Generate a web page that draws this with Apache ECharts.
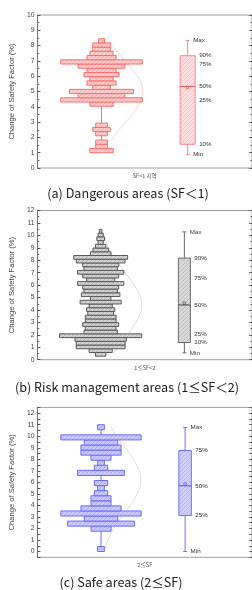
<!DOCTYPE html>
<html><head><meta charset="utf-8">
<script src="https://cdn.jsdelivr.net/npm/echarts@6/dist/echarts.min.js"></script>
<style>html,body{margin:0;padding:0;background:#fff}#c{width:252px;height:590px}</style>
</head><body><div id="c"></div><script>
// ================= DATA =================
// Panel (a) Dangerous areas (SF<1)
const histStartA = 1.0, histBinA = 0.276;
const countsA = [4,2,2,0,2,3,2,0,0,0,0,4,14,8,11,3,5,4,6,5,8,14,5,4,3,3,1];
const boxNamesA = ['Max','90%','75%','50%','25%','10%','Min'];
const boxValsA  = [8.33, 7.34, 6.81, 5.33, 4.41, 1.55, 0.87];
const meanA = 5.25;
const curveA = [[1.7,1.5],[2.2,2.4],[2.7,3.5],[3.2,4.6],[3.7,5.7],[4.2,6.5],[4.7,7.0],[5.0,7.1],[5.3,7.0],[5.8,6.5],[6.3,5.6],[6.8,4.5],[7.3,3.4],[7.8,2.3],[8.35,1.3]];
const xNameA = 'SF<1 지역';
const captionA = '(a) Dangerous areas (SF＜1)';

// Panel (b) Risk management areas (1<=SF<2)
const histStartB = 0.28, histBinB = 0.3;
const countsB = [4,9,19,19,20,32,13,12,14,12,12,10,11,9,16,8,15,13,14,18,11,14,18,13,14,19,21,8,6,4,2,3,2,1];
const boxNamesB = ['Max','90%','75%','50%','25%','10%','Min'];
const boxValsB  = [10.28, 8.17, 6.56, 4.40, 2.04, 1.38, 0.55];
const meanB = 4.55;
const curveB = [[0.5,4.9],[1.5,8.3],[2.5,12.1],[3.5,15.0],[4.4,16.0],[5.0,15.6],[6.0,13.1],[7.0,9.5],[8.0,5.9],[8.5,4.3],[9.0,3.1],[9.5,2.1],[10.0,1.4]];
const xNameB = '1≤SF<2';
const captionB = '(b) Risk management areas (1≤SF＜2)';

// Panel (c) Safe areas (2<=SF)
const histStartC = 0.0, histBinC = 0.44;
const countsC = [1,0,0,0,3,10,5,12,6,3,3,2,1,2,0,7,2,1,3,6,6,5,12,0,1];
const boxNamesC = ['Max','75%','50%','25%','Min'];
const boxValsC  = [10.76, 8.76, 5.70, 3.12, 0.0];
const meanC = 5.87;
const curveC = [[0.15,0.56],[1.0,1.03],[2.0,1.9],[3.0,3.07],[4.0,4.35],[5.0,5.42],[6.2,5.95],[7.0,5.71],[8.0,4.83],[9.0,3.58],[10.0,2.34],[10.9,1.43]];
const xNameC = '2≤SF';
const captionC = '(c) Safe areas (2≤SF)';

const yTitle = 'Change of Safety Factor (%)';

// ================= LAYOUT / STYLE =================
function hatch(bg, line) {
  const c = document.createElement('canvas'); c.width = 4; c.height = 4;
  const g = c.getContext('2d'); g.fillStyle = bg; g.fillRect(0, 0, 4, 4);
  g.strokeStyle = line; g.lineWidth = 1;
  g.beginPath(); g.moveTo(-1, 5); g.lineTo(5, -1); g.stroke();
  return {image: c, repeat: 'repeat'};
}
const panels = [
  {left:32, top:15, bottom:168, yMin:0, yMax:10, interval:1, minor:true,
   histX:66, boxX:154.7, boxW:15, unit:6, boxLoIdx:5, boxHiIdx:1,
   start:histStartA, bin:histBinA, counts:countsA, names:boxNamesA, vals:boxValsA, mean:meanA, curve:curveA,
   xName:xNameA, caption:captionA, capX:128, capY:193, nameGap:16,
   stroke:'#ff6b6b', fill:hatch('#ffcccc','#ffb0b0'), boxFill:hatch('#ffdde1','#ffc4ca'), boxStroke:'#ff8090',
   median:'#e25555', curveColor:'#f2cfcf'},
  {left:30, top:210.5, bottom:359.7, yMin:0, yMax:12, interval:1, minor:true,
   histX:65.7, boxX:152.7, boxW:12, unit:2.67, boxLoIdx:5, boxHiIdx:1,
   start:histStartB, bin:histBinB, counts:countsB, names:boxNamesB, vals:boxValsB, mean:meanB, curve:curveB,
   xName:xNameB, caption:captionB, capX:127, capY:387, nameGap:15,
   stroke:'#5a5a5a', fill:hatch('#d2d2d2','#b9b9b9'), boxFill:hatch('#d8d8d8','#c0c0c0'), boxStroke:'#6a6a6a',
   median:'#444444', curveColor:'#d6d6d6'},
  {left:28.5, top:407.4, bottom:557.3, yMin:-0.5, yMax:12.5, interval:0.5, minor:false,
   histX:66.5, boxX:154.5, boxW:12.5, unit:7, boxLoIdx:3, boxHiIdx:1,
   start:histStartC, bin:histBinC, counts:countsC, names:boxNamesC, vals:boxValsC, mean:meanC, curve:curveC,
   xName:xNameC, caption:captionC, capX:121, capY:582, nameGap:15,
   stroke:'#6a6aff', fill:hatch('#c9c9ff','#afafff'), boxFill:hatch('#cfcfff','#b6b6ff'), boxStroke:'#7070ff',
   median:'#4f4fff', curveColor:'#dadada'}
];
const RIGHT = 253;
const FONT = '"Liberation Sans", Arial, sans-serif';

const grid = [], xAxis = [], yAxis = [], series = [], graphic = [];
panels.forEach((P, i) => {
  const W = RIGHT - P.left;
  grid.push({left:P.left, top:P.top, width:W, height:P.bottom - P.top, show:true, borderColor:'#a0a0a0', borderWidth:1, containLabel:false});
  xAxis.push({gridIndex:i, type:'value', min:0, max:W, axisLine:{show:false}, axisTick:{show:false},
    axisLabel:{show:false}, splitLine:{show:false},
    name:P.xName, nameLocation:'middle', nameGap:5,
    nameTextStyle:{fontSize:5.5, color:'#555', fontFamily:'"Noto Sans CJK KR", sans-serif', verticalAlign:'top'}});
  const common = {gridIndex:i, type:'value', min:P.yMin, max:P.yMax, interval:P.interval, splitLine:{show:false}};
  yAxis.push(Object.assign({}, common, {position:'left',
    axisLine:{show:true, lineStyle:{color:'#777', width:1}},
    axisTick:{show:true, inside:true, length:3, lineStyle:{color:'#555'}},
    minorTick:{show:P.minor, splitNumber:2, length:1.8, lineStyle:{color:'#666'}},
    axisLabel:{fontSize:6.8, color:'#444', margin:3, fontFamily:FONT,
      formatter: v => (Math.abs(v - Math.round(v)) < 1e-6 ? String(Math.round(v)) : '')},
    name:yTitle, nameLocation:'middle', nameGap:P.nameGap,
    nameTextStyle:{fontSize:7.6, color:'#444', fontFamily:FONT}}));
  yAxis.push(Object.assign({}, common, {position:'right',
    axisLine:{show:false},
    axisTick:{show:true, inside:true, length:3, lineStyle:{color:'#666'}},
    minorTick:{show:P.minor, splitNumber:2, length:1.8, lineStyle:{color:'#777'}},
    axisLabel:{show:false}}));
  const yi = i * 2;
  // normal curve
  series.push({type:'line', xAxisIndex:i, yAxisIndex:yi, smooth:0.4, showSymbol:false, silent:true, z:1,
    lineStyle:{color:P.curveColor, width:0.9},
    data:P.curve.map(([y, o]) => [P.histX + o * P.unit, y])});
  // centre line through histogram
  const lo = P.start, hi = P.start + P.counts.length * P.bin;
  series.push({type:'line', xAxisIndex:i, yAxisIndex:yi, showSymbol:false, silent:true, z:2,
    lineStyle:{color:P.stroke, width:1}, data:[[P.histX, lo + P.bin * 0.5], [P.histX, hi - P.bin * 0.5]]});
  // histogram
  series.push({type:'custom', xAxisIndex:i, yAxisIndex:yi, z:3, silent:true,
    data:P.counts.map((c, k) => [P.start + k * P.bin, P.start + (k + 1) * P.bin, c]),
    renderItem:(params, api) => {
      const c = api.value(2); if (!c) return null;
      const half = c * P.unit / 2;
      const a = api.coord([P.histX - half, api.value(1)]);
      const b = api.coord([P.histX + half, api.value(0)]);
      return {type:'rect', shape:{x:a[0], y:a[1], width:b[0] - a[0], height:b[1] - a[1]},
        style:{fill:P.fill, stroke:P.stroke, lineWidth:1}};
    }});
  // box plot
  series.push({type:'custom', xAxisIndex:i, yAxisIndex:yi, z:3, silent:true, data:[[0]],
    renderItem:(params, api) => {
      const v = P.vals, n = v.length;
      const cx = api.coord([P.boxX, 0])[0];
      const Y = val => api.coord([P.boxX, val])[1];
      const bl = cx - P.boxW / 2, br = cx + P.boxW / 2;
      const top = Y(v[P.boxHiIdx]), bot = Y(v[P.boxLoIdx]);
      const ch = [];
      ch.push({type:'line', shape:{x1:cx, y1:Y(v[0]), x2:cx, y2:Y(v[n - 1])}, style:{stroke:P.boxStroke, lineWidth:1}});
      ch.push({type:'line', shape:{x1:cx - 2, y1:Y(v[0]), x2:cx + 2, y2:Y(v[0])}, style:{stroke:P.boxStroke, lineWidth:1}});
      ch.push({type:'line', shape:{x1:cx - 2, y1:Y(v[n - 1]), x2:cx + 2, y2:Y(v[n - 1])}, style:{stroke:P.boxStroke, lineWidth:1}});
      ch.push({type:'rect', shape:{x:bl, y:top, width:P.boxW, height:bot - top}, style:{fill:P.boxFill, stroke:P.boxStroke, lineWidth:1}});
      const mi = P.names.indexOf('50%');
      ch.push({type:'line', shape:{x1:bl, y1:Y(v[mi]), x2:br, y2:Y(v[mi])}, style:{stroke:P.median, lineWidth:1}});
      const my = Y(P.mean);
      ch.push({type:'rect', shape:{x:cx - 1.2, y:my - 1.2, width:2.4, height:2.4}, style:{fill:'none', stroke:P.median, lineWidth:0.6}});
      P.names.forEach((nm, k) => {
        const edge = (nm === 'Max' || nm === 'Min') ? cx + 5.5 : br + 4;
        ch.push({type:'text', style:{text:nm, x:edge, y:Y(v[k]), fill:'#333', fontSize:6.2, fontFamily:FONT,
          align:'left', verticalAlign:'middle'}});
      });
      return {type:'group', children:ch};
    }});
  graphic.push({type:'text', x:P.capX, y:P.capY,
    style:{text:P.caption, x:0, y:0, fill:'#222', fontSize:12.6, fontFamily:'"Noto Sans CJK KR", "Noto Sans", sans-serif',
      align:'center', verticalAlign:'middle'}});
});

const chart = echarts.init(document.getElementById('c'), null, {renderer:'canvas', width:252, height:590});
chart.setOption({animation:false, backgroundColor:'#fff', grid, xAxis, yAxis, series, graphic});
</script></body></html>
